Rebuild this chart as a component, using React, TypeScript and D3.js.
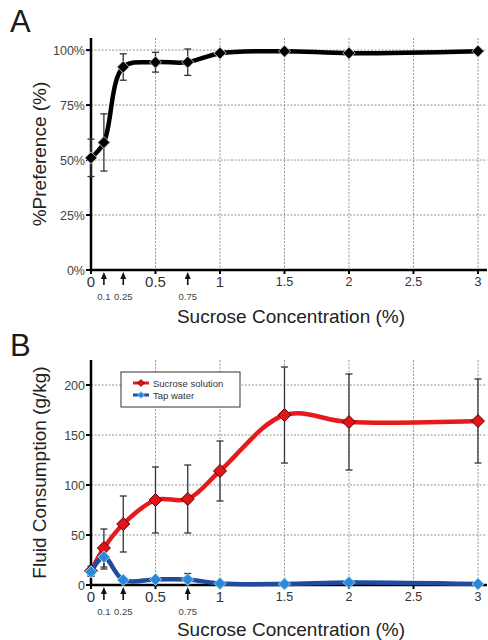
import { useEffect, useRef } from 'react';
import * as d3 from 'd3';

// sucrose concentrations (%) tested
const concentrations = [0, 0.1, 0.25, 0.5, 0.75, 1, 1.5, 2, 3];
// panel A: % preference
const preferenceMean = [51, 58, 92.3, 94.5, 94.5, 98.6, 99.5, 98.6, 99.5];
const preferenceErr = [8.5, 13, 6, 4.5, 6, 0.8, 0.5, 0.5, 0.5];
// panel B: fluid consumption (g/kg)
const sucroseMean = [14, 37, 61, 85, 86, 114, 170, 163, 164];
const sucroseErr = [5, 19, 28, 33, 34, 30, 48, 48, 42];
const waterMean = [13, 28, 5, 5.5, 5.5, 1.5, 1, 2.5, 1];
const waterErr = [4, 12, 2, 2, 6, 1, 1, 1, 1];

const majorTicks = [0, 0.5, 1, 1.5, 2, 2.5, 3];
const arrowTicks = [0.1, 0.25, 0.75];
const prefTicks = [0, 25, 50, 75, 100];
const consTicks = [0, 50, 100, 150, 200];
const legendLabels = ['Sucrose solution', 'Tap water'];

const FONT = '"Liberation Sans", Arial, sans-serif';

type Series = { mean: number[]; err: number[]; line: string; fill: string; stroke: string; r: number };

const App = () => {
  const svgRef = useRef<SVGSVGElement>(null);

  useEffect(() => {
    const svg = d3.select(svgRef.current);
    svg.selectAll('*').remove();

    const x = d3.scaleLinear().domain([0, 3.07]).range([91, 487]);

    const drawPanel = (
      letter: string,
      letterY: number,
      y: d3.ScaleLinear<number, number>,
      yTicks: number[],
      yFmt: (v: number) => string,
      yLabel: string,
      labelX: number,
      series: Series[],
      xLabelY: number
    ) => {
      const [y0, y1] = y.range();
      const g = svg.append('g');

      g.append('text')
        .attr('x', 10)
        .attr('y', letterY)
        .attr('font-family', FONT)
        .attr('font-size', 31)
        .attr('fill', '#1a1a1a')
        .text(letter);

      // grid
      g.selectAll('.vg')
        .data(majorTicks.filter((d) => d > 0))
        .join('line')
        .attr('x1', (d) => x(d))
        .attr('x2', (d) => x(d))
        .attr('y1', y1)
        .attr('y2', y0)
        .attr('stroke', '#777')
        .attr('stroke-width', 0.8)
        .attr('stroke-dasharray', '2,1.5');
      g.selectAll('.hg')
        .data(yTicks.filter((d) => d > 0))
        .join('line')
        .attr('x1', x.range()[0])
        .attr('x2', x.range()[1])
        .attr('y1', (d) => y(d))
        .attr('y2', (d) => y(d))
        .attr('stroke', '#777')
        .attr('stroke-width', 0.8)
        .attr('stroke-dasharray', '2,1.5');

      // y ticks + labels
      g.selectAll('.yt')
        .data(yTicks)
        .join('line')
        .attr('x1', 86)
        .attr('x2', 91)
        .attr('y1', (d) => y(d))
        .attr('y2', (d) => y(d))
        .attr('stroke', '#000')
        .attr('stroke-width', 2);
      g.selectAll('.yl')
        .data(yTicks)
        .join('text')
        .attr('x', 85)
        .attr('y', (d) => y(d) + 4.5)
        .attr('text-anchor', 'end')
        .attr('font-family', FONT)
        .attr('font-size', 12.5)
        .attr('fill', '#444')
        .text(yFmt);

      // x ticks + labels
      g.selectAll('.xt')
        .data(majorTicks)
        .join('line')
        .attr('x1', (d) => x(d))
        .attr('x2', (d) => x(d))
        .attr('y1', y0)
        .attr('y2', y0 + 4)
        .attr('stroke', '#000')
        .attr('stroke-width', 2);
      g.selectAll('.xl')
        .data(majorTicks)
        .join('text')
        .attr('x', (d) => x(d))
        .attr('y', (d) => y0 + (d <= 1 ? 17 : 16))
        .attr('text-anchor', 'middle')
        .attr('font-family', FONT)
        .attr('font-size', (d) => (d <= 1 ? 15 : 12.5))
        .attr('fill', '#333')
        .text((d) => String(d));

      // arrows for minor concentrations
      const arrows = g.selectAll('.ar').data(arrowTicks).join('g')
        .attr('transform', (d) => `translate(${x(d)},${y0})`);
      arrows.append('line')
        .attr('y1', 7).attr('y2', 15)
        .attr('stroke', '#111').attr('stroke-width', 1.6);
      arrows.append('path')
        .attr('d', 'M0,2 L-3,9 L3,9 Z')
        .attr('fill', '#111');
      arrows.append('text')
        .attr('y', 30)
        .attr('text-anchor', 'middle')
        .attr('font-family', FONT)
        .attr('font-size', 9.5)
        .attr('fill', '#444')
        .text((d) => String(d));

      // axes
      g.append('line')
        .attr('x1', 91).attr('x2', 91).attr('y1', y1).attr('y2', y0 + 1)
        .attr('stroke', '#000').attr('stroke-width', 2.5);
      g.append('line')
        .attr('x1', 90).attr('x2', x.range()[1]).attr('y1', y0).attr('y2', y0)
        .attr('stroke', '#000').attr('stroke-width', 2.5);

      // axis titles
      g.append('text')
        .attr('transform', `translate(${labelX},${(y0 + y1) / 2}) rotate(-90)`)
        .attr('text-anchor', 'middle')
        .attr('font-family', FONT)
        .attr('font-size', 19)
        .attr('fill', '#222')
        .text(yLabel);
      g.append('text')
        .attr('x', 291)
        .attr('y', xLabelY)
        .attr('text-anchor', 'middle')
        .attr('font-family', FONT)
        .attr('font-size', 19)
        .attr('fill', '#222')
        .text('Sucrose Concentration (%)');

      // error bars
      series.forEach((s) => {
        const eb = g.append('g').selectAll('g').data(concentrations).join('g');
        eb.append('line')
          .attr('x1', (d) => x(d)).attr('x2', (d) => x(d))
          .attr('y1', (d, i) => y(s.mean[i] + s.err[i]))
          .attr('y2', (d, i) => y(Math.max(0, s.mean[i] - s.err[i])))
          .attr('stroke', '#333').attr('stroke-width', 1.3);
        [1, -1].forEach((sign) => {
          eb.append('line')
            .attr('x1', (d) => x(d) - 3.5).attr('x2', (d) => x(d) + 3.5)
            .attr('y1', (d, i) => y(Math.max(0, s.mean[i] + sign * s.err[i])))
            .attr('y2', (d, i) => y(Math.max(0, s.mean[i] + sign * s.err[i])))
            .attr('stroke', '#333').attr('stroke-width', 1.3);
        });
      });

      // lines + markers
      series.forEach((s) => {
        const line = d3
          .line<number>()
          .x((d) => x(d))
          .y((d, i) => y(s.mean[i]))
          .curve(d3.curveCatmullRom);
        g.append('path')
          .datum(concentrations)
          .attr('d', line)
          .attr('fill', 'none')
          .attr('stroke', s.line)
          .attr('stroke-width', 4.5)
          .attr('stroke-linejoin', 'round');
        g.append('g')
          .selectAll('path')
          .data(concentrations)
          .join('path')
          .attr('transform', (d, i) => `translate(${x(d)},${y(s.mean[i])})`)
          .attr('d', d3.symbol().type(d3.symbolDiamond2).size((s.r / 0.62625) ** 2)())
          .attr('fill', s.fill)
          .attr('stroke', s.stroke)
          .attr('stroke-width', 1);
      });
      return g;
    };

    const yA = d3.scaleLinear().domain([0, 105.5]).range([270, 38]);
    drawPanel('A', 32, yA, prefTicks, (d) => `${d}%`, '%Preference (%)', 46,
      [{ mean: preferenceMean, err: preferenceErr, line: '#000', fill: '#000', stroke: '#bbb', r: 6 }], 323);

    const yB = d3.scaleLinear().domain([0, 225]).range([585, 360]);
    const gB = drawPanel('B', 356, yB, consTicks, (d) => String(d), 'Fluid Consumption (g/kg)', 46,
      [
        { mean: sucroseMean, err: sucroseErr, line: '#e8191c', fill: '#e0151a', stroke: '#5a0000', r: 6.5 },
        { mean: waterMean, err: waterErr, line: '#1f4ba0', fill: '#2f86d6', stroke: '#8fd3f4', r: 6 },
      ], 636);

    // legend
    const legend = gB.append('g').attr('transform', 'translate(121,372)');
    legend.append('rect')
      .attr('width', 119).attr('height', 35)
      .attr('fill', '#fff').attr('stroke', '#333').attr('stroke-width', 1);
    const legendColors = [
      { line: '#e8191c', fill: '#e0151a', stroke: '#5a0000' },
      { line: '#1f4ba0', fill: '#2f86d6', stroke: '#8fd3f4' },
    ];
    const rows = legend.selectAll('.lr').data(legendLabels).join('g')
      .attr('transform', (d, i) => `translate(0,${11 + i * 12})`);
    rows.append('line')
      .attr('x1', 12).attr('x2', 28)
      .attr('stroke', (d, i) => legendColors[i].line).attr('stroke-width', 3);
    rows.append('path')
      .attr('transform', 'translate(20,0)')
      .attr('d', d3.symbol().type(d3.symbolDiamond2).size(30)())
      .attr('fill', (d, i) => legendColors[i].fill)
      .attr('stroke', (d, i) => legendColors[i].stroke)
      .attr('stroke-width', 0.8);
    rows.append('text')
      .attr('x', 32).attr('y', 3.5)
      .attr('font-family', FONT)
      .attr('font-size', 9.5)
      .attr('fill', '#333')
      .text((d) => d);
  }, []);

  return (
    <svg
      ref={svgRef}
      width={488}
      height={640}
      style={{ position: 'absolute', left: 0, top: 0, background: '#fff' }}
    />
  );
};

export default App;
